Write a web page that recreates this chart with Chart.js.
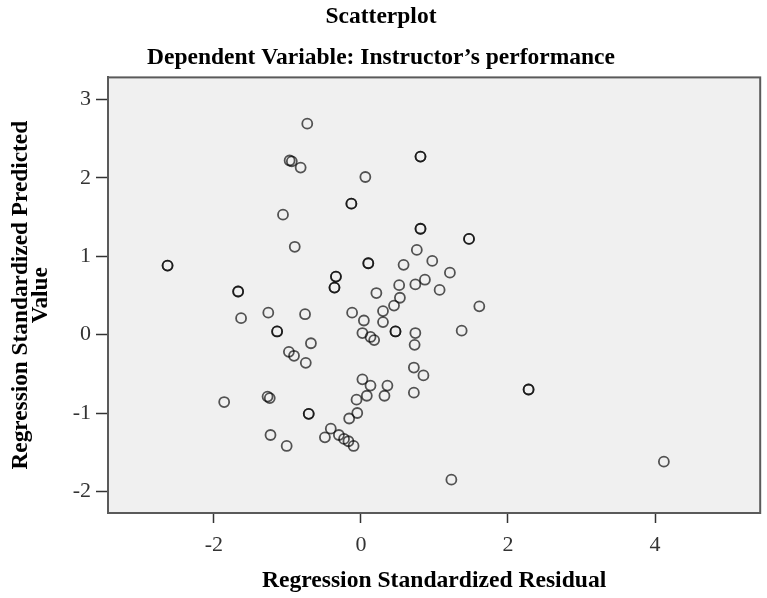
<!DOCTYPE html>
<html>
<head>
<meta charset="utf-8">
<title>Scatterplot</title>
<script src="https://cdn.jsdelivr.net/npm/chart.js"></script>
<style>
  html, body { margin: 0; padding: 0; background: #fff; }
  #wrap { width: 767px; height: 598px; }
</style>
</head>
<body>
<div id="wrap"><canvas id="myChart" width="767" height="598"></canvas></div>
<script>
// regression standardized residual (x) and predicted value (y)
// points that look darker in the original are overlapping cases, so they appear twice
const residual = [
  -2.63, -2.63, -0.73, -0.97, -0.94, -0.82, 0.06, -0.13, -0.13, 0.81, 0.81,
  -1.06, -0.90, 0.81, 0.81, 0.76, 0.10, 0.10, 0.58, -0.34, -0.34, -0.36, -0.36,
  -1.67, -1.67, 0.21, 0.52, 0.74, 0.87, 1.47, 1.47, 0.97, 1.21, 1.07,
  -1.63, -1.26, -1.14, -1.14, -0.76, -0.68, -0.98, -0.91, -0.75,
  -0.12, 0.04, 0.02, 0.13, 0.18, 0.30, 0.30, 0.45, 0.53, 0.47, 0.47,
  0.74, 0.73, 0.72, 0.85, 0.72, 0.02, 0.13, 0.36, 0.32, 0.08, -0.06, -0.05, -0.16,
  -0.71, -0.71, -1.86, -1.27, -1.24, -1.23, -1.01, -0.41, -0.49, -0.30, -0.23, -0.17, -0.10,
  1.61, 1.37, 2.28, 2.28, 4.12, 1.23
];
const predicted = [
  0.88, 0.88, 2.69, 2.22, 2.21, 2.13, 2.01, 1.67, 1.67, 2.27, 2.27,
  1.53, 1.12, 1.35, 1.35, 1.08, 0.91, 0.91, 0.89, 0.74, 0.74, 0.60, 0.60,
  0.55, 0.55, 0.53, 0.63, 0.64, 0.70, 1.22, 1.22, 0.94, 0.79, 0.57,
  0.21, 0.28, 0.04, 0.04, 0.26, -0.11, -0.22, -0.27, -0.36,
  0.28, 0.18, 0.02, -0.03, -0.07, 0.30, 0.16, 0.37, 0.47, 0.04, 0.04,
  0.02, -0.13, -0.42, -0.52, -0.74, -0.57, -0.65, -0.65, -0.78, -0.78, -0.83, -1.00, -1.07,
  -1.01, -1.01, -0.86, -0.79, -0.81, -1.28, -1.42, -1.20, -1.31, -1.28, -1.33, -1.36, -1.42,
  0.36, 0.05, -0.70, -0.70, -1.62, -1.85
];

const xTickLabels = ['-2', '0', '2', '4'];
const yTickLabels = ['-2', '-1', '0', '1', '2', '3'];

const points = residual.map((r, i) => ({ x: r, y: predicted[i] }));

const serif = 'Liberation Serif, Times New Roman, serif';

// grey plot panel with a frame all round
const panel = {
  id: 'panel',
  beforeDatasetsDraw(chart) {
    const { ctx, chartArea: a } = chart;
    ctx.save();
    ctx.fillStyle = '#f0f0f0';
    ctx.fillRect(a.left, a.top, a.right - a.left, a.bottom - a.top);
    ctx.restore();
  },
  afterDraw(chart) {
    const { ctx, chartArea: a } = chart;
    ctx.save();
    ctx.strokeStyle = '#5a5a5a';
    ctx.lineWidth = 2;
    ctx.strokeRect(a.left, a.top, a.right - a.left, a.bottom - a.top);
    ctx.restore();
  }
};

const ctx = document.getElementById('myChart').getContext('2d');
new Chart(ctx, {
  type: 'scatter',
  data: {
    datasets: [{
      data: points,
      pointStyle: 'circle',
      pointRadius: 5,
      pointHoverRadius: 5,
      borderWidth: 1.8,
      borderColor: 'rgba(0,0,0,0.66)',
      backgroundColor: 'rgba(0,0,0,0)'
    }]
  },
  options: {
    responsive: false,
    animation: false,
    layout: { padding: { left: 0, right: 5, top: 0, bottom: 0 } },
    scales: {
      x: {
        type: 'linear',
        min: -3.44,
        max: 5.43,
        afterFit(scale) { scale.height = 85; },
        grid: { drawOnChartArea: false, drawTicks: true, tickLength: 10, tickColor: '#333', tickWidth: 1.5 },
        border: { display: true, color: '#5a5a5a', width: 2 },
        ticks: {
          stepSize: 2,
          includeBounds: false,
          padding: 9,
          color: '#333',
          font: { family: serif, size: 22 },
          callback: (v) => xTickLabels.includes(String(v)) ? String(v) : ''
        },
        title: {
          display: true,
          text: 'Regression Standardized Residual',
          color: '#000',
          font: { family: serif, size: 23.6, weight: 'bold' },
          padding: { top: 0, bottom: 3 }
        }
      },
      y: {
        type: 'linear',
        min: -2.275,
        max: 3.28,
        afterFit(scale) { scale.width = 108; },
        grid: { drawOnChartArea: false, drawTicks: true, tickLength: 12, tickColor: '#333', tickWidth: 1.5 },
        border: { display: true, color: '#5a5a5a', width: 2 },
        ticks: {
          stepSize: 1,
          includeBounds: false,
          padding: 5,
          color: '#333',
          font: { family: serif, size: 22 },
          callback: (v) => yTickLabels.includes(String(v)) ? String(v) : ''
        },
        title: {
          display: true,
          text: ['Regression Standardized Predicted', 'Value'],
          color: '#000',
          font: { family: serif, size: 23.3, weight: 'bold', lineHeight: 0.9 },
          padding: { top: 10, bottom: 0 }
        }
      }
    },
    plugins: {
      legend: { display: false },
      tooltip: { enabled: false },
      title: {
        display: true,
        text: 'Scatterplot',
        color: '#000',
        font: { family: serif, size: 23.5, weight: 'bold' },
        padding: { top: 3, bottom: 0 }
      },
      subtitle: {
        display: true,
        text: 'Dependent Variable: Instructor\u2019s performance',
        color: '#000',
        font: { family: serif, size: 23.5, weight: 'bold' },
        padding: { top: 12.8, bottom: 5.2 }
      }
    }
  },
  plugins: [panel]
});
</script>
</body>
</html>
